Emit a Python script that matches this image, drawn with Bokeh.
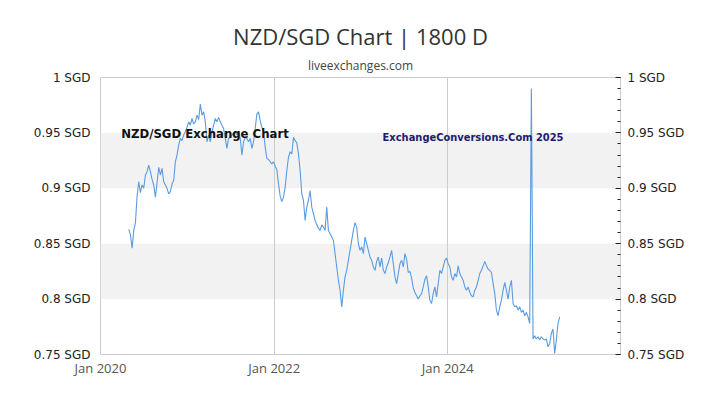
import pandas as pd
from bokeh.plotting import figure
from bokeh.models import (Range1d, LinearAxis, FixedTicker, PrintfTickFormatter,
                          DatetimeTickFormatter, BoxAnnotation, Label, Title, ColumnDataSource)
from bokeh.embed import file_html
from bokeh.resources import INLINE

# ---- data (weekly readings of NZD/SGD) ----
start_date = "2020-04-29"
rates = [
    0.863, 0.858, 0.846, 0.862, 0.869, 0.893, 0.906, 0.896, 0.903, 0.900,
    0.912, 0.915, 0.921, 0.915, 0.908, 0.903, 0.892, 0.905, 0.919, 0.912,
    0.918, 0.906, 0.903, 0.900, 0.895, 0.897, 0.904, 0.907, 0.924, 0.930,
    0.939, 0.945, 0.943, 0.948, 0.951, 0.955, 0.960, 0.957, 0.963, 0.958,
    0.960, 0.966, 0.962, 0.976, 0.966, 0.969, 0.960, 0.942, 0.948, 0.942,
    0.951, 0.957, 0.963, 0.960, 0.964, 0.960, 0.957, 0.954, 0.945, 0.936,
    0.945, 0.946, 0.948, 0.950, 0.951, 0.948, 0.951, 0.945, 0.930, 0.942,
    0.946, 0.945, 0.942, 0.945, 0.936, 0.942, 0.954, 0.967, 0.969, 0.961,
    0.955, 0.951, 0.937, 0.927, 0.926, 0.924, 0.922, 0.924, 0.920, 0.917,
    0.904, 0.893, 0.888, 0.892, 0.901, 0.916, 0.928, 0.933, 0.931, 0.946,
    0.943, 0.941, 0.931, 0.916, 0.895, 0.889, 0.871, 0.883, 0.889, 0.898,
    0.883, 0.877, 0.871, 0.867, 0.864, 0.862, 0.867, 0.865, 0.862, 0.883,
    0.862, 0.859, 0.856, 0.853, 0.841, 0.829, 0.817, 0.808, 0.793, 0.808,
    0.820, 0.826, 0.835, 0.844, 0.853, 0.862, 0.869, 0.865, 0.850, 0.844,
    0.847, 0.841, 0.856, 0.850, 0.844, 0.838, 0.835, 0.829, 0.826, 0.834,
    0.838, 0.829, 0.837, 0.826, 0.823, 0.829, 0.833, 0.838, 0.844, 0.832,
    0.820, 0.814, 0.823, 0.832, 0.835, 0.829, 0.841, 0.836, 0.824, 0.825,
    0.819, 0.810, 0.806, 0.803, 0.800, 0.803, 0.805, 0.811, 0.818, 0.821,
    0.811, 0.799, 0.796, 0.805, 0.811, 0.802, 0.814, 0.826, 0.823, 0.829,
    0.835, 0.837, 0.832, 0.829, 0.820, 0.817, 0.823, 0.820, 0.830, 0.823,
    0.820, 0.817, 0.811, 0.808, 0.811, 0.806, 0.803, 0.802, 0.808, 0.811,
    0.817, 0.823, 0.826, 0.830, 0.834, 0.830, 0.827, 0.826, 0.824, 0.814,
    0.805, 0.790, 0.785, 0.793, 0.799, 0.808, 0.815, 0.808, 0.800, 0.811,
    0.817, 0.796, 0.793, 0.794, 0.790, 0.793, 0.788, 0.790, 0.785, 0.788,
    0.784, 0.778, 0.990, 0.764, 0.767, 0.764, 0.766, 0.763, 0.766, 0.764,
    0.763, 0.764, 0.757, 0.760, 0.769, 0.773, 0.751, 0.763, 0.778, 0.784,
]
dates = pd.date_range(start_date, periods=len(rates), freq="7D")

x_tick_dates = ["2020-01-01", "2022-01-01", "2024-01-01"]
y_ticks = [0.75, 0.8, 0.85, 0.9, 0.95, 1.0]
bands = [(0.8, 0.85), (0.9, 0.95)]

title_text = "NZD/SGD Chart | 1800 D"
subtitle_text = "liveexchanges.com"
watermark_left = "NZD/SGD Exchange Chart"
watermark_right = "ExchangeConversions.Com 2025"

NARROW = "'DejaVu Sans Condensed', 'Liberation Sans Narrow', 'Roboto Condensed', Roboto, sans-serif"


def ms(d):
    return pd.Timestamp(d).value / 1e6


source = ColumnDataSource(data=dict(date=dates, rate=rates))

p = figure(width=720, height=405, x_axis_type="datetime",
           x_range=Range1d(ms("2020-01-01"), ms("2025-12-28")),
           y_range=Range1d(0.75, 1.0),
           output_backend="svg", toolbar_location=None,
           min_border_left=100, min_border_right=100,
           min_border_top=77, min_border_bottom=51)

p.background_fill_color = "white"
p.border_fill_color = "white"
p.outline_line_color = "#cccccc"

# titles
p.title.text = title_text
p.title.align = "center"
p.title.text_font = "Open Sans"
p.title.text_font_size = "22px"
p.title.text_font_style = "normal"
p.title.text_color = "#333333"
p.title.standoff = 0
p.add_layout(Title(text=subtitle_text, align="center", text_font="Open Sans",
                   text_font_size="12px", text_font_style="normal",
                   text_color="#444444", standoff=8), "above")

# bands
for lo, hi in bands:
    p.add_layout(BoxAnnotation(bottom=lo, top=hi, fill_color="#f2f2f2", fill_alpha=1.0,
                               line_color=None, level="image"))

# grids
xt = FixedTicker(ticks=[ms(d) for d in x_tick_dates])
p.xaxis.ticker = xt
p.xgrid.ticker = xt
p.xgrid.grid_line_color = "#cccccc"
p.ygrid.grid_line_color = None

fmt = DatetimeTickFormatter(years="%b %Y", months="%b %Y", days="%b %Y",
                            hours="%b %Y", minutes="%b %Y", seconds="%b %Y",
                            milliseconds="%b %Y", microseconds="%b %Y", hourmin="%b %Y",
                            minsec="%b %Y")
p.xaxis.formatter = fmt
p.xaxis.axis_line_color = None
p.xaxis.major_tick_in = 0
p.xaxis.major_tick_out = 0
p.xaxis.minor_tick_in = 0
p.xaxis.minor_tick_out = 0
p.xaxis.major_label_text_font = "Open Sans"
p.xaxis.major_label_text_font_size = "13px"
p.xaxis.major_label_text_color = "#555555"
p.xaxis.major_label_standoff = 4

minor = [round(0.75 + 0.01 * i, 2) for i in range(26)]
yt = FixedTicker(ticks=y_ticks, minor_ticks=minor)
yfmt = PrintfTickFormatter(format="%s SGD")

p.yaxis.ticker = yt
p.yaxis.formatter = yfmt
p.yaxis.axis_line_color = None
p.yaxis.major_tick_in = 0
p.yaxis.major_tick_out = 0
p.yaxis.minor_tick_in = 0
p.yaxis.minor_tick_out = 0
p.yaxis.major_label_text_font = "DejaVu Sans"
p.yaxis.major_label_text_font_size = "12px"
p.yaxis.major_label_text_color = "#222222"
p.yaxis.major_label_standoff = 10

ry = LinearAxis(ticker=yt, formatter=yfmt)
ry.axis_line_color = "#cccccc"
ry.major_tick_in = 5
ry.major_tick_out = 0
ry.minor_tick_in = 3
ry.minor_tick_out = 0
ry.major_tick_line_color = "#222222"
ry.minor_tick_line_color = "#222222"
ry.major_label_text_font = "DejaVu Sans"
ry.major_label_text_font_size = "12px"
ry.major_label_text_color = "#222222"
ry.major_label_standoff = 7
p.add_layout(ry, "right")

# watermark labels
p.add_layout(Label(x=ms("2020-03-28"), y=0.9495, text=watermark_left,
                   text_font=NARROW, text_font_style="bold",
                   text_font_size="13px", text_color="#111111", text_baseline="middle"))
p.add_layout(Label(x=ms("2023-04-02"), y=0.9455, text=watermark_right,
                   text_font=NARROW, text_font_style="bold",
                   text_font_size="11px", text_color="#1c1c6b", text_baseline="middle"))

p.line("date", "rate", source=source, line_color="#5a9be1", line_width=1.1)

open("out.html", "w").write(file_html(p, INLINE))
